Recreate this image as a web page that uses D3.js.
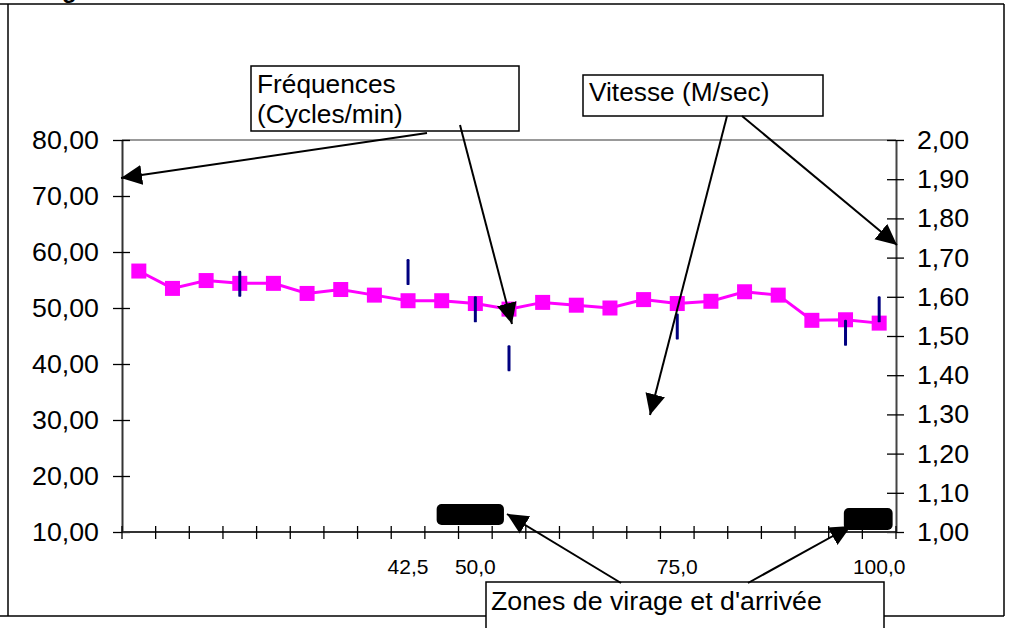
<!DOCTYPE html>
<html><head><meta charset="utf-8">
<script src="https://cdn.jsdelivr.net/npm/d3@7"></script>
<style>body{margin:0;background:#fff}svg{display:block;font-family:"Liberation Sans",Arial,sans-serif}</style>
</head><body><svg id="c" width="1012" height="628"></svg>
<script>
// ---- data ----
const categories = d3.range(1, 24); // 23 measures
const categoryLabels = ["","","","","","","","","42,5","","50,0","","","","","","75,0","","","","","","100,0"];
const frequences = [56.6,53.5,54.9,54.4,54.4,52.6,53.3,52.3,51.3,51.3,50.8,49.8,51.0,50.5,50.0,51.5,50.8,51.2,52.9,52.3,47.8,47.9,47.3];
const vitesseCategories = [4,9,11,12,17,22,23];
const vitesse = [1.633,1.663,1.568,1.443,1.524,1.508,1.568];
const leftTicks = [10,20,30,40,50,60,70,80];
const rightTicks = [1.0,1.1,1.2,1.3,1.4,1.5,1.6,1.7,1.8,1.9,2.0];
const zoneStart = [9.35, 21.45]; // zones de virage et d'arrivée (category units)
const zoneEnd = [11.35, 22.9];

// ---- layout ----
const svg = d3.select("#c");
const L = 122, R = 896, T = 140, B = 532;
const fr = d3.formatLocale({decimal: ",", thousands: " ", grouping: [3], currency: ["", "€"]});
const f2 = fr.format(".2f");

const x = d3.scaleBand().domain(categories).range([L, R]);
const xEdge = d3.scaleLinear().domain([0, categories.length]).range([L, R]);
const yL = d3.scaleLinear().domain([10, 80]).range([B, T]);
const yR = d3.scaleLinear().domain([1, 2]).range([B, T]);

function txt(parent, px, py, s, size, sx, anchor) {
  return parent.append("text")
    .attr("transform", `translate(${px},${py}) scale(${sx},1)`)
    .attr("font-size", size).attr("text-anchor", anchor || "start")
    .attr("fill", "#000").text(s);
}

// defs arrow
svg.append("defs").append("marker")
  .attr("id", "ah").attr("markerUnits", "userSpaceOnUse")
  .attr("markerWidth", 22).attr("markerHeight", 22)
  .attr("viewBox", "0 0 22 22").attr("refX", 21).attr("refY", 11).attr("orient", "auto")
  .append("path").attr("d", "M0,1 L21,11 L0,21 Z").attr("fill", "#000");

// outer frame
const frame = svg.append("g").attr("stroke", "#000").attr("stroke-width", 1.5);
frame.append("line").attr("x1", 0).attr("x2", 1004).attr("y1", 4).attr("y2", 4);
frame.append("line").attr("x1", 8).attr("x2", 8).attr("y1", 4).attr("y2", 616);
frame.append("line").attr("x1", 1004).attr("x2", 1004).attr("y1", 4).attr("y2", 616);
frame.append("line").attr("x1", 0).attr("x2", 1004).attr("y1", 616).attr("y2", 616);

// cut title fragment (only its descender is visible in the frame)
svg.append("text").attr("x", 62).attr("y", -2).attr("font-size", 24).attr("font-weight", "bold").text("g");

// plot area top border
svg.append("line").attr("x1", L).attr("x2", R).attr("y1", T).attr("y2", T)
  .attr("stroke", "#999").attr("stroke-width", 2);

// left axis
const gl = svg.append("g").attr("transform", `translate(${L},0)`)
  .call(d3.axisLeft(yL).tickValues(leftTicks).tickSize(9).tickSizeOuter(0).tickFormat(() => ""));
gl.select(".domain").attr("stroke", "#333").attr("stroke-width", 2);
gl.selectAll(".tick line").attr("x2", -9).attr("x1", 8).attr("stroke", "#000").attr("stroke-width", 1.3);
leftTicks.forEach(v => {
  txt(svg, 99, yL(v) + 9, f2(v), 25, 1.07, "end");
});

// right axis
const gr = svg.append("g").attr("transform", `translate(${R},0)`)
  .call(d3.axisRight(yR).tickValues(rightTicks).tickSize(9).tickSizeOuter(0).tickFormat(() => ""));
gr.select(".domain").attr("stroke", "#444").attr("stroke-width", 2);
gr.selectAll(".tick line").attr("x1", -9).attr("x2", 8).attr("stroke", "#000").attr("stroke-width", 1.3);
rightTicks.forEach(v => {
  txt(svg, 917, yR(v) + 9, f2(v), 25, 1.07, "start");
});

// x axis
svg.append("line").attr("x1", L).attr("x2", R).attr("y1", B).attr("y2", B)
  .attr("stroke", "#333").attr("stroke-width", 2);
svg.append("g").selectAll("line").data(d3.range(categories.length + 1)).join("line")
  .attr("x1", d => xEdge(d)).attr("x2", d => xEdge(d))
  .attr("y1", B - 6).attr("y2", B + 7).attr("stroke", "#000").attr("stroke-width", 1.3);
categories.forEach((c, i) => {
  if (categoryLabels[i]) txt(svg, x(c) + x.bandwidth() / 2, 574, categoryLabels[i], 21, 1.0, "middle");
});

// zones (black rounded boxes)
const zoneY = [504, 508], zoneH = [21, 22];
zoneStart.forEach((s, i) => {
  svg.append("rect").attr("x", xEdge(s)).attr("y", zoneY[i])
    .attr("width", xEdge(zoneEnd[i]) - xEdge(s)).attr("height", zoneH[i]).attr("rx", 5).attr("fill", "#000");
});

// magenta series (Fréquences)
const pts = categories.map((c, i) => [x(c) + x.bandwidth() / 2, yL(frequences[i])]);
svg.append("path").attr("d", d3.line()(pts)).attr("fill", "none")
  .attr("stroke", "#FF00FF").attr("stroke-width", 3);
svg.append("g").selectAll("rect").data(pts).join("rect")
  .attr("x", d => d[0] - 7.5).attr("y", d => d[1] - 7.5)
  .attr("width", 15).attr("height", 15).attr("fill", "#FF00FF");

// blue series (Vitesse)
svg.append("g").selectAll("rect").data(vitesse).join("rect")
  .attr("x", (d, i) => x(vitesseCategories[i]) + x.bandwidth() / 2 - 1.5)
  .attr("y", d => yR(d) - 13).attr("width", 3).attr("height", 26).attr("rx", 1.2)
  .attr("fill", "#000080");

// annotation boxes
function box(x0, y0, w, h) {
  svg.append("rect").attr("x", x0).attr("y", y0).attr("width", w).attr("height", h)
    .attr("fill", "#fff").attr("stroke", "#000").attr("stroke-width", 1.5);
}
box(251, 66, 268, 65);
txt(svg, 257, 93, "Fréquences", 25.5, 1.03);
txt(svg, 257, 123, "(Cycles/min)", 25.5, 1.03);
box(583, 75, 240, 41);
txt(svg, 589, 101, "Vitesse (M/sec)", 25.5, 1.03);
box(486, 582, 398, 60);
txt(svg, 491, 610, "Zones de virage et d'arrivée", 25.5, 1.05);

// arrows
const arrows = [
  [427, 133, 121, 178],
  [460, 125, 512, 324],
  [727, 116, 650, 415],
  [742, 116, 897, 245],
  [621, 583, 507, 514],
  [748, 583, 851, 526]
];
svg.append("g").selectAll("line").data(arrows).join("line")
  .attr("x1", d => d[0]).attr("y1", d => d[1]).attr("x2", d => d[2]).attr("y2", d => d[3])
  .attr("stroke", "#000").attr("stroke-width", 2).attr("marker-end", "url(#ah)");
</script></body></html>
